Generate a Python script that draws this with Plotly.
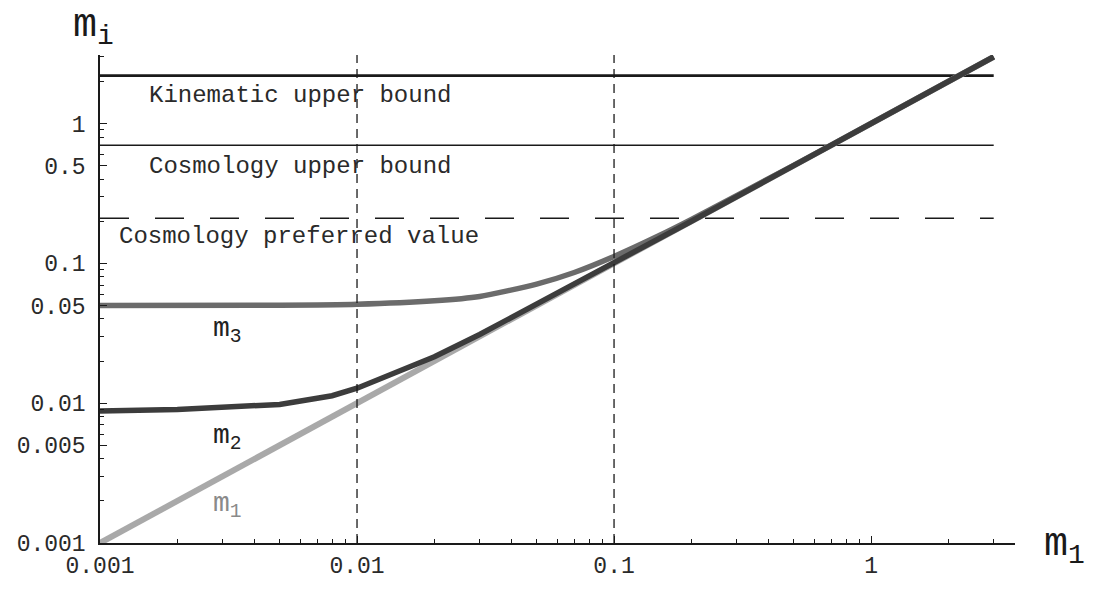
import plotly.graph_objects as go

# Lightest neutrino mass m1 (eV) and the resulting masses m_i
m1_axis = [0.001, 0.003, 0.01, 0.03, 0.1, 0.3, 1.0, 3.0]
m1_vals = [0.001, 0.003, 0.01, 0.03, 0.1, 0.3, 1.0, 3.0]

m2_axis = [0.001, 0.002, 0.005, 0.008, 0.01, 0.015, 0.02, 0.03, 0.05, 0.1, 0.2, 0.5, 1.0, 3.0]
m2_vals = [0.0088, 0.0090, 0.0098, 0.0113, 0.0128, 0.0172, 0.0215, 0.031, 0.051, 0.1, 0.2, 0.5, 1.0, 3.0]

m3_axis = [0.001, 0.005, 0.01, 0.02, 0.03, 0.05, 0.07, 0.1, 0.15, 0.2, 0.5, 1.0, 3.0]
m3_vals = [0.050, 0.0502, 0.051, 0.054, 0.058, 0.071, 0.086, 0.112, 0.158, 0.206, 0.502, 1.0, 3.0]

# Upper bounds (eV)
bound_span = [0.001, 3.0]
kinematic_bound = 2.2
cosmology_bound = 0.7
cosmology_preferred = 0.21

# Reference values of m1 marked with vertical guides
guide_m1 = [0.01, 0.1]

x_ticks = [0.001, 0.01, 0.1, 1]
x_labels = ["0.001", "0.01", "0.1", "1"]
y_ticks = [0.001, 0.005, 0.01, 0.05, 0.1, 0.5, 1]
y_labels = ["0.001", "0.005", "0.01", "0.05", "0.1", "0.5", "1"]
minor_vals = [k * 10.0 ** e for e in (-3, -2, -1, 0) for k in range(2, 10)]

MONO = "Liberation Mono"
INK = "#1a1a1a"

W, H = 1098, 592
ML, MR, MT, MB = 100, 83, 55, 34
PW, PH = W - ML - MR, H - MT - MB


def px_to_paper(px, py):
    return (px - ML) / PW, (H - MB - py) / PH


fig = go.Figure()

# horizontal bounds
fig.add_trace(go.Scatter(x=bound_span, y=[kinematic_bound] * 2, mode="lines",
                         line=dict(color=INK, width=2.8), hoverinfo="skip"))
fig.add_trace(go.Scatter(x=bound_span, y=[cosmology_bound] * 2, mode="lines",
                         line=dict(color=INK, width=1.4), hoverinfo="skip"))
fig.add_trace(go.Scatter(x=bound_span, y=[cosmology_preferred] * 2, mode="lines",
                         line=dict(color=INK, width=1.6, dash="29px,26px"),
                         hoverinfo="skip"))

# vertical guides
for g in guide_m1:
    fig.add_vline(x=g, line=dict(color=INK, width=1.3, dash="9px,6px"))

# mass curves
fig.add_trace(go.Scatter(x=m1_axis, y=m1_vals, mode="lines", name="m1",
                         line=dict(color="#a9a9a9", width=6)))
fig.add_trace(go.Scatter(x=m3_axis, y=m3_vals, mode="lines", name="m3",
                         line=dict(color="#6b6b6b", width=5.5, shape="spline", smoothing=0.6)))
fig.add_trace(go.Scatter(x=m2_axis, y=m2_vals, mode="lines", name="m2",
                         line=dict(color="#3c3c3c", width=5.5)))

text_font = dict(family=MONO, size=24, color="#2a2a2a")
notes = [
    ("Kinematic upper bound", 147, 97),
    ("Cosmology upper bound", 147, 170),
    ("Cosmology preferred value", 117, 242),
]
for txt, px, py in notes:
    ax, ay = px_to_paper(px, py)
    fig.add_annotation(x=ax, y=ay, xref="paper", yref="paper", text=txt, showarrow=False,
                       xanchor="left", yanchor="middle", font=text_font)

curve_labels = [
    ("m<sub>3</sub>", 227, 339, "#222222"),
    ("m<sub>2</sub>", 227, 449, "#222222"),
    ("m<sub>1</sub>", 227, 519, "#8a8a8a"),
]
for txt, px, py, c in curve_labels:
    ax, ay = px_to_paper(px, py)
    fig.add_annotation(x=ax, y=ay, xref="paper", yref="paper", text=txt, showarrow=False,
                       xanchor="center", yanchor="middle",
                       font=dict(family=MONO, size=28, color=c))

# axis names
for txt, px, py in [("m<sub>i</sub>", 93, 27), ("m<sub>1</sub>", 1064, 562)]:
    ax, ay = px_to_paper(px, py)
    fig.add_annotation(x=ax, y=ay, xref="paper", yref="paper", text=txt,
                       showarrow=False, xanchor="center", yanchor="middle",
                       font=dict(family=MONO, size=40, color=INK))

axis_common = dict(
    type="log", showgrid=False, zeroline=False, showline=True, linecolor=INK,
    linewidth=1.5, ticks="inside", ticklen=7, tickwidth=1.2, tickcolor=INK,
    tickfont=dict(family=MONO, size=23, color="#2a2a2a"), mirror=False,
    minor=dict(ticks="inside", ticklen=4, tickwidth=1, tickcolor=INK,
               tickmode="array", tickvals=minor_vals, showgrid=False),
)

fig.update_layout(
    width=W, height=H,
    margin=dict(l=ML, r=MR, t=MT, b=MB),
    paper_bgcolor="white", plot_bgcolor="white",
    showlegend=False,
    xaxis=dict(range=[-3, 0.56], tickmode="array", tickvals=x_ticks, ticktext=x_labels,
               ticklabelstandoff=1, **axis_common),
    yaxis=dict(range=[-3, 0.49], tickmode="array", tickvals=y_ticks, ticktext=y_labels,
               ticklabelstandoff=8, **axis_common),
)

fig.write_html("out.html")
